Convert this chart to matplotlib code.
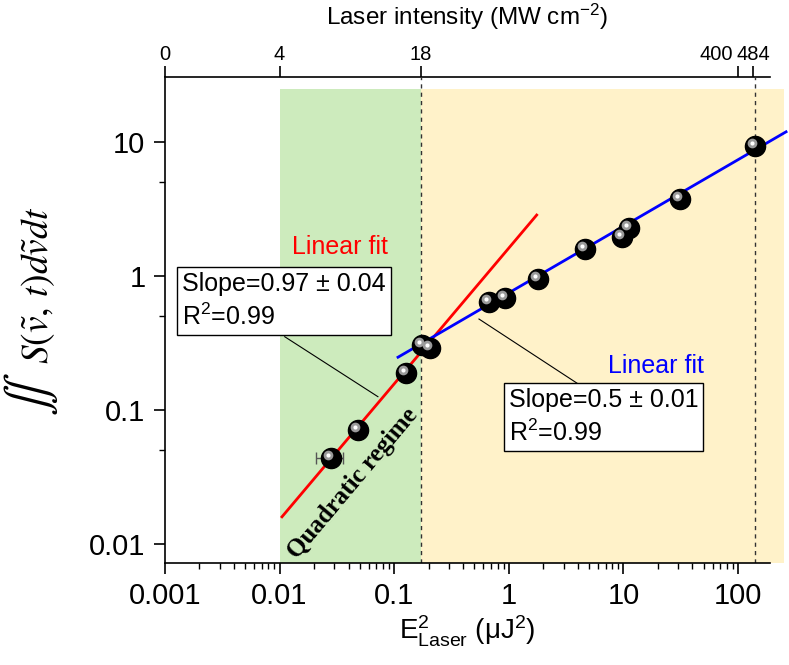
import numpy as np
import matplotlib
matplotlib.use("Agg")
import matplotlib.pyplot as plt
from matplotlib.patches import Rectangle
from matplotlib.lines import Line2D
from matplotlib.ticker import LogLocator, NullLocator, FixedLocator
from matplotlib.transforms import offset_copy

plt.rcParams['font.family'] = ['Liberation Sans', 'DejaVu Sans']
plt.rcParams['mathtext.fontset'] = 'stix'

# Measured points: laser energy squared (uJ^2) vs integrated signal
e2 = [0.028, 0.048, 0.126, 0.175, 0.207, 0.678, 0.918, 1.81, 4.6, 9.7, 11.25, 31.1, 140]
signal = [0.0437, 0.071, 0.19, 0.306, 0.289, 0.636, 0.68, 0.953, 1.58, 1.97, 2.3, 3.77, 9.32]
# x error only on the first point
e2_err_lo = [0.007] + [0] * 12
e2_err_hi = [0.008] + [0] * 12

# Fit lines (end points)
red_fit_x = [0.0105, 1.75]
red_fit_y = [0.016, 2.85]
blue_fit_x = [0.108, 262]
blue_fit_y = [0.248, 11.9]

# Regions
quad_lo, quad_hi = 0.01, 0.17
sat_hi = 250
shade_top = 24.7
marker_lines = [0.17, 140]

# Top axis (laser intensity)
top_ticks = [0.001, 0.01, 0.17, 100, 136]
top_labels = ['0', '4', '18', '400', '484']
top_align = ['center', 'center', 'center', 'right', 'center']

x_lim = (0.001, 190)
y_lim = (0.00724, 30.5)

fig = plt.figure(figsize=(7.89, 6.65), dpi=100)
ax = fig.add_axes([0.209, 0.1534, 0.767, 0.7308])
ax.set_xscale('log')
ax.set_yscale('log')
ax.set_xlim(*x_lim)
ax.set_ylim(*y_lim)

# shaded regimes
ax.add_patch(Rectangle((quad_lo, y_lim[0]), quad_hi - quad_lo, shade_top - y_lim[0],
                       facecolor='#cdebbd', edgecolor='none', zorder=0))
ax.add_patch(Rectangle((quad_hi, y_lim[0]), sat_hi - quad_hi, shade_top - y_lim[0],
                       facecolor='#fff2c9', edgecolor='none', zorder=0, clip_on=False))
for xv in marker_lines:
    ax.axvline(xv, color='#333333', lw=1, ls=(0, (3, 3)), zorder=1)

# fits
ax.plot(red_fit_x, red_fit_y, color='#ff0000', lw=2, zorder=3)
ax.plot(blue_fit_x, blue_fit_y, color='#0000ff', lw=2, zorder=3, clip_on=False)

# data: black balls with a highlight
ax.errorbar(e2, signal, xerr=[e2_err_lo, e2_err_hi], fmt='none', ecolor='#555555',
            elinewidth=1, capsize=4, zorder=2)
ax.plot(e2, signal, 'o', color='black', ms=14.5, zorder=4)
hl = offset_copy(ax.transData, fig=fig, x=-3, y=3, units='dots')
ax.plot(e2, signal, 'o', color='#9a9a9a', ms=7, mew=0, transform=hl, zorder=5)
ax.plot(e2, signal, 'o', color='white', ms=3, mew=0, transform=hl, zorder=6)

# axes styling
for s in ['right', 'top']:
    ax.spines[s].set_visible(False)
ax.xaxis.set_minor_locator(LogLocator(base=10, subs=np.arange(2, 10), numticks=10))
ax.yaxis.set_minor_locator(LogLocator(base=10, subs=[5], numticks=10))
ax.set_xticks([0.001, 0.01, 0.1, 1, 10, 100])
ax.set_xticklabels(['0.001', '0.01', '0.1', '1', '10', '100'])
ax.set_yticks([0.01, 0.1, 1, 10])
ax.set_yticklabels(['0.01', '0.1', '1', '10'])
ax.set_xlim(*x_lim)
ax.set_ylim(*y_lim)
ax.tick_params(which='major', length=8, width=1.2, labelsize=21, pad=6)
ax.tick_params(which='minor', length=4, width=1)
for s in ['left', 'bottom']:
    ax.spines[s].set_linewidth(1.2)

ax.set_xlabel(r'$\mathregular{E^2_{Laser}}$ ($\mathregular{\mu J^2}$)', fontsize=20, labelpad=2)

# y label: big double integral + integrand
fig.text(31 / 789, 1 - 394 / 665, r'$\iint$', fontsize=34, rotation=90,
         ha='center', va='center')
fig.text(38 / 789, 1 - 285 / 665, r'$S(\tilde{v},\, t)d\tilde{v}dt$', fontsize=27,
         rotation=90, ha='center', va='center')

# top axis
sec = ax.secondary_xaxis('top')
sec.xaxis.set_major_locator(FixedLocator(top_ticks))
sec.xaxis.set_minor_locator(NullLocator())
sec.tick_params(length=8, width=1.2, labeltop=False)
sec.spines['top'].set_linewidth(1.2)
for xv, lab, al in zip(top_ticks, top_labels, top_align):
    dx = -3.5 if al == 'right' else 0
    ax.annotate(lab, (xv, 1), xycoords=('data', 'axes fraction'), xytext=(dx, 12.5),
                textcoords='offset points', ha=al, va='baseline', fontsize=14.5,
                annotation_clip=False)
fig.text(467 / 789, 1 - 25 / 665, r'Laser intensity (MW cm$\mathregular{^{-2}}$)',
         fontsize=17.5, ha='center', va='baseline')

# annotations
ax.text(0.29, 0.650, 'Linear fit', color='#ff0000', fontsize=18, ha='center', va='center',
        transform=ax.transAxes)
ax.text(0.811, 0.405, 'Linear fit', color='#0000ff', fontsize=18, ha='center', va='center',
        transform=ax.transAxes)
box = dict(boxstyle='square,pad=0.2', facecolor='white', edgecolor='black', lw=1)
ax.text(0.029, 0.598, 'Slope=0.97 ± 0.04\nR$\\mathregular{^2}$=0.99', fontsize=18,
        ha='left', va='top', linespacing=1.35, bbox=box, transform=ax.transAxes, zorder=7)
ax.text(0.568, 0.360, 'Slope=0.5 ± 0.01\nR$\\mathregular{^2}$=0.99', fontsize=18,
        ha='left', va='top', linespacing=1.35, bbox=box, transform=ax.transAxes, zorder=7)
ax.add_line(Line2D([0.198, 0.352], [0.4656, 0.3422], color='black', lw=0.8,
                   transform=ax.transAxes, zorder=6))
ax.add_line(Line2D([0.681, 0.519], [0.370, 0.502], color='black', lw=0.8,
                   transform=ax.transAxes, zorder=6))

ax.text(0.311, 0.163, 'Quadratic regime', family='Liberation Serif', fontweight='bold',
        fontsize=18, rotation=50, ha='center', va='center', rotation_mode='anchor',
        transform=ax.transAxes, zorder=6)

fig.savefig('out.png', dpi=100)
